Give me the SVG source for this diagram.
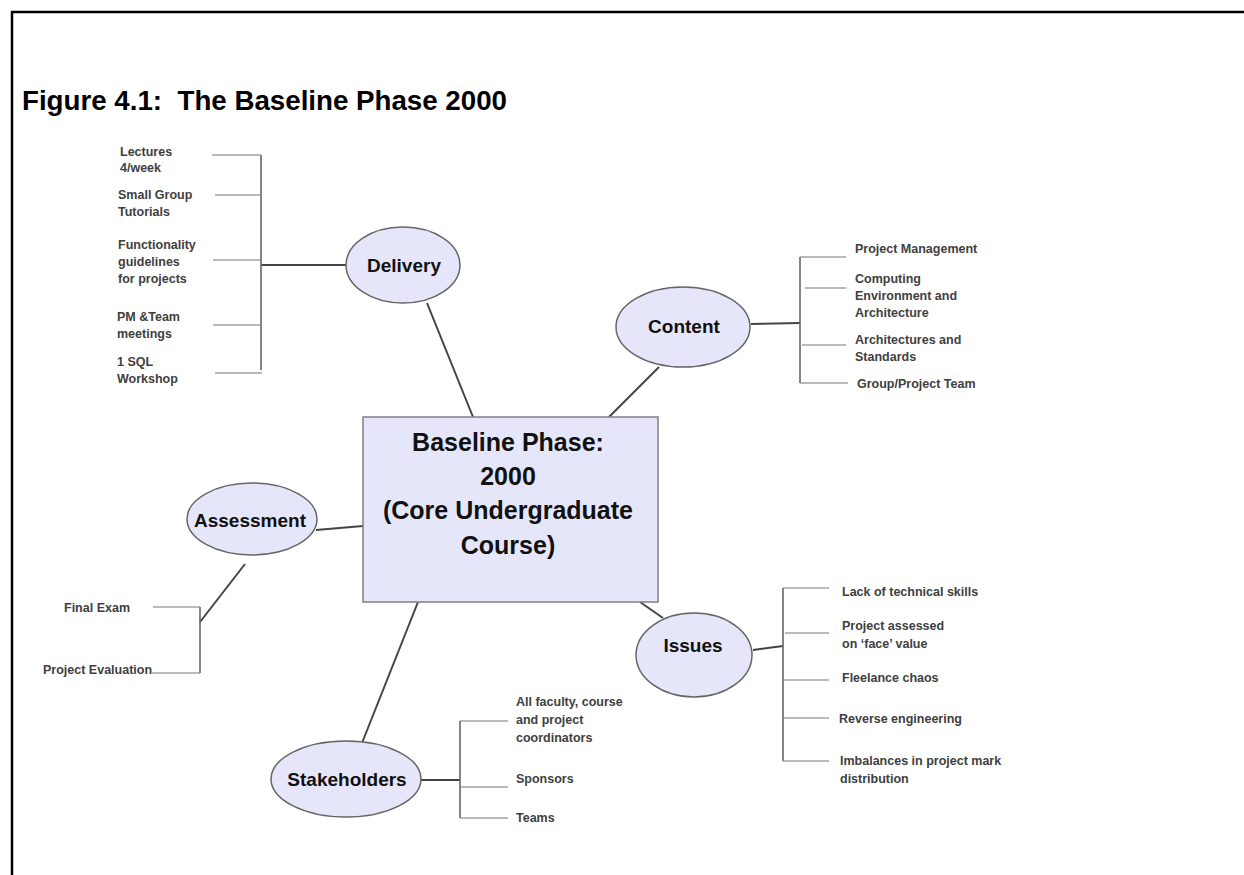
<svg xmlns="http://www.w3.org/2000/svg" width="1244" height="875" viewBox="0 0 1244 875">
  <style>
    .frame { stroke: #000; stroke-width: 2.5; fill: none; }
    .title { font-family: "Liberation Sans", Arial, sans-serif; font-weight: bold; font-size: 27px; fill: #000; white-space: pre; }
    .bubble { fill: #e6e6fa; stroke: #666; stroke-width: 1.5; }
    .hub { fill: #e6e6fa; stroke: #808080; stroke-width: 1.5; }
    .hubtxt { font-family: "Liberation Sans", Arial, sans-serif; font-weight: bold; font-size: 25px; fill: #111; text-anchor: middle; }
    .lbl { font-family: "Liberation Sans", Arial, sans-serif; font-weight: bold; font-size: 19px; fill: #111; text-anchor: middle; }
    .item { font-family: "Liberation Sans", Arial, sans-serif; font-weight: bold; font-size: 12.5px; fill: #404040; }
    .link { stroke: #444; stroke-width: 2; fill: none; }
    .spine { stroke: #666; stroke-width: 1.6; fill: none; }
    .tick { stroke: #777; stroke-width: 1.1; fill: none; }
  </style>

  <rect width="1244" height="875" fill="#fff"/>

  <!-- page frame: top and left rules -->
  <line class="frame" x1="11" y1="12" x2="1244" y2="12"/>
  <line class="frame" x1="12" y1="11" x2="12" y2="875"/>

  <text class="title" x="22" y="110" textLength="485" lengthAdjust="spacingAndGlyphs">Figure 4.1:  The Baseline Phase 2000</text>

  <!-- connectors -->
  <g id="connectors">
    <!-- hub to topic bubbles -->
    <line class="link" x1="427" y1="303" x2="473" y2="417"/>
    <line class="link" x1="659" y1="367" x2="609" y2="417"/>
    <line class="link" x1="316" y1="530" x2="363" y2="526"/>
    <line class="link" x1="640" y1="602" x2="663" y2="618"/>
    <line class="link" x1="418" y1="602" x2="362" y2="743"/>

    <!-- Delivery bracket -->
    <line class="link" x1="261" y1="265" x2="346" y2="265"/>
    <line class="spine" x1="261" y1="155" x2="261" y2="370"/>
    <line class="tick" x1="212" y1="155" x2="261" y2="155"/>
    <line class="tick" x1="215" y1="195" x2="261" y2="195"/>
    <line class="tick" x1="213" y1="260" x2="261" y2="260"/>
    <line class="tick" x1="213" y1="325" x2="261" y2="325"/>
    <line class="tick" x1="215" y1="373" x2="262" y2="373"/>

    <!-- Content bracket -->
    <line class="link" x1="751" y1="324" x2="800" y2="323"/>
    <line class="spine" x1="800" y1="257" x2="800" y2="383"/>
    <line class="tick" x1="800" y1="257" x2="846" y2="257"/>
    <line class="tick" x1="805" y1="288" x2="846" y2="288"/>
    <line class="tick" x1="802" y1="345" x2="846" y2="345"/>
    <line class="tick" x1="800" y1="383" x2="848" y2="383"/>

    <!-- Assessment bracket -->
    <line class="link" x1="245" y1="564" x2="200" y2="622"/>
    <line class="spine" x1="200" y1="607" x2="200" y2="673"/>
    <line class="tick" x1="153" y1="607" x2="200" y2="607"/>
    <line class="tick" x1="152" y1="673" x2="200" y2="673"/>

    <!-- Issues bracket -->
    <line class="link" x1="753" y1="650" x2="783" y2="646"/>
    <line class="spine" x1="783" y1="588" x2="783" y2="761"/>
    <line class="tick" x1="783" y1="588" x2="829" y2="588"/>
    <line class="tick" x1="785" y1="633" x2="829" y2="633"/>
    <line class="tick" x1="783" y1="680" x2="829" y2="680"/>
    <line class="tick" x1="783" y1="718" x2="829" y2="718"/>
    <line class="tick" x1="783" y1="761" x2="829" y2="761"/>

    <!-- Stakeholders bracket -->
    <line class="link" x1="421" y1="780" x2="460" y2="780"/>
    <line class="spine" x1="460" y1="721" x2="460" y2="818"/>
    <line class="tick" x1="460" y1="721" x2="508" y2="721"/>
    <line class="tick" x1="460" y1="787" x2="508" y2="787"/>
    <line class="tick" x1="460" y1="818" x2="508" y2="818"/>
  </g>

  <!-- central box -->
  <g id="hub">
    <rect class="hub" x="363" y="417" width="295" height="185"/>
    <text class="hubtxt" x="508" y="451">Baseline Phase:</text>
    <text class="hubtxt" x="508" y="485">2000</text>
    <text class="hubtxt" x="508" y="519">(Core Undergraduate</text>
    <text class="hubtxt" x="508" y="554">Course)</text>
  </g>

  <g id="delivery">
    <ellipse class="bubble" cx="403" cy="265" rx="57" ry="38"/>
    <text class="lbl" x="404" y="272">Delivery</text>
  </g>
  <g id="delivery-items">
    <text class="item" x="120" y="156">Lectures</text>
    <text class="item" x="120" y="172">4/week</text>
    <text class="item" x="118" y="199">Small Group</text>
    <text class="item" x="118" y="216">Tutorials</text>
    <text class="item" x="118" y="249">Functionality</text>
    <text class="item" x="118" y="266">guidelines</text>
    <text class="item" x="118" y="283">for projects</text>
    <text class="item" x="117" y="321">PM &amp;Team</text>
    <text class="item" x="117" y="338">meetings</text>
    <text class="item" x="117" y="366">1 SQL</text>
    <text class="item" x="117" y="383">Workshop</text>
  </g>

  <g id="content">
    <ellipse class="bubble" cx="683" cy="327" rx="67" ry="40"/>
    <text class="lbl" x="684" y="333">Content</text>
  </g>
  <g id="content-items">
    <text class="item" x="855" y="253">Project Management</text>
    <text class="item" x="855" y="283">Computing</text>
    <text class="item" x="855" y="300">Environment and</text>
    <text class="item" x="855" y="317">Architecture</text>
    <text class="item" x="855" y="344">Architectures and</text>
    <text class="item" x="855" y="361">Standards</text>
    <text class="item" x="857" y="388">Group/Project Team</text>
  </g>

  <g id="assessment">
    <ellipse class="bubble" cx="252" cy="519" rx="65" ry="36"/>
    <text class="lbl" x="250" y="527">Assessment</text>
  </g>
  <g id="assessment-items">
    <text class="item" x="64" y="612">Final Exam</text>
    <text class="item" x="43" y="674">Project Evaluation</text>
  </g>

  <g id="issues">
    <ellipse class="bubble" cx="694" cy="655" rx="58" ry="42"/>
    <text class="lbl" x="693" y="652">Issues</text>
  </g>
  <g id="issues-items">
    <text class="item" x="842" y="596">Lack of technical skills</text>
    <text class="item" x="842" y="630">Project assessed</text>
    <text class="item" x="842" y="648">on ‘face’ value</text>
    <text class="item" x="842" y="682">Fleelance chaos</text>
    <text class="item" x="839" y="723">Reverse engineering</text>
    <text class="item" x="840" y="765">Imbalances in project mark</text>
    <text class="item" x="840" y="783">distribution</text>
  </g>

  <g id="stakeholders">
    <ellipse class="bubble" cx="346" cy="779" rx="75" ry="38"/>
    <text class="lbl" x="347" y="786">Stakeholders</text>
  </g>
  <g id="stakeholders-items">
    <text class="item" x="516" y="706">All faculty, course</text>
    <text class="item" x="516" y="724">and project</text>
    <text class="item" x="516" y="742">coordinators</text>
    <text class="item" x="516" y="783">Sponsors</text>
    <text class="item" x="516" y="822">Teams</text>
  </g>
</svg>
